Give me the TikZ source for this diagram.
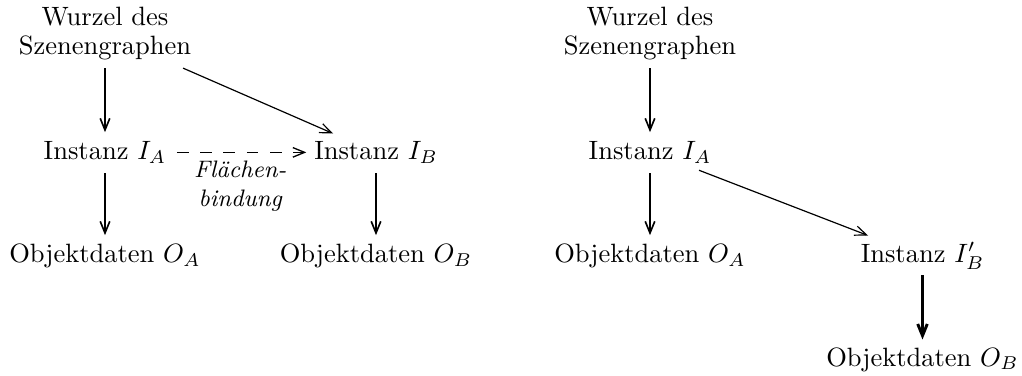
\documentclass[tikz,border=0pt]{standalone}
\usepackage{fontspec}
\usetikzlibrary{arrows.meta,calc}

\begin{document}
\begin{tikzpicture}[
    x=0.3774pt, y=-0.3774pt,
    box/.style={inner sep=3pt, outer sep=0pt, text height=7pt, text depth=2pt, anchor=base},
    twoline/.style={inner sep=3pt, outer sep=0pt, align=center, anchor=south},
    tip/.style={-{Straight Barb[length=4.4pt,width=3.6pt]}},
    edge/.style={tip, line width=0.62pt, shorten >=0.5pt},
    slant/.style={tip, line width=0.45pt},
    heavy/.style={tip, line width=1.1pt},
    link/.style={tip, line width=0.5pt, dash pattern=on 4.4pt off 4.4pt, shorten <=1pt}
  ]
  \useasboundingbox (0,0) rectangle (1022,376);

  % ---- scene graph with surface binding between two instances ----
  \node[twoline] (wl) at (105,68.1) {Wurzel des\\[-1pt]Szenengraphen};
  \node[box] (ia) at (105,160) {Instanz $I_A$};
  \node[box] (ib) at (376,160) {Instanz $I_B$};
  \node[box] (oa) at (105,263) {Objektdaten $O_A$};
  \node[box] (ob) at (376,263) {Objektdaten $O_B$};

  \draw[edge] (wl.south) -- (ia.north);
  \draw[edge] (ia.south) -- (oa.north);
  \draw[edge] (ib.south) -- (ob.north);
  \draw[slant] ($(wl.south)+(78,0)$) -- ($(ib.north)+(-43,0)$);
  \draw[link] ($(ia.east)+(0,-1)$) -- node[below, inner sep=3pt, align=center, font=\small\itshape] (fl)
      {Flächen-\\bindung} ($(ib.west)+(0,-1)$);

  % ---- scene graph with a copied instance ----
  \node[twoline] (wr) at (650,68.1) {Wurzel des\\[-1pt]Szenengraphen};
  \node[box] (ir) at (650,160) {Instanz $I_A$};
  \node[box] (or) at (650,263) {Objektdaten $O_A$};
  \node[box] (ic) at (922.5,262) {Instanz $I'_B$};
  \node[box] (oc) at (922.5,366) {Objektdaten $O_B$};

  \draw[edge] (wr.south) -- (ir.north);
  \draw[edge] (ir.south) -- (or.north);
  \draw[slant] ($(ir.south)+(49,-3)$) -- ($(ic.north)+(-54.5,0)$);
  \draw[heavy] (ic.south) -- (oc.north);
\end{tikzpicture}
\end{document}
